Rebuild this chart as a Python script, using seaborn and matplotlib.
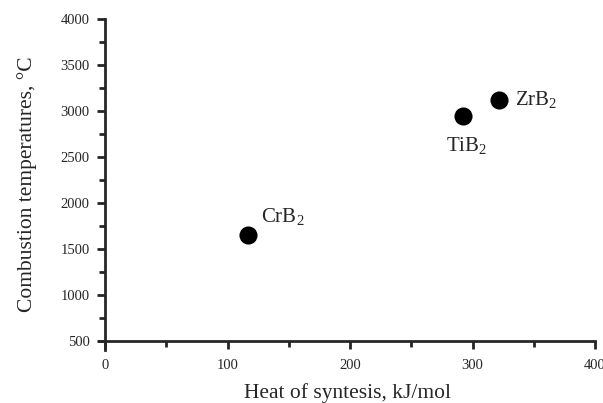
import matplotlib.pyplot as plt
import seaborn as sns
import pandas as pd
from matplotlib.ticker import MultipleLocator

# values
compounds = ['CrB$_\\mathregular{2}$', 'TiB$_\\mathregular{2}$', 'ZrB$_\\mathregular{2}$']
heat = [117, 292, 322]
temp = [1650, 2950, 3120]

df = pd.DataFrame({'heat': heat, 'temp': temp, 'name': compounds})

sns.set_style('ticks')
plt.rcParams['font.family'] = ['Liberation Serif', 'DejaVu Serif']
plt.rcParams['mathtext.fontset'] = 'custom'
plt.rcParams['mathtext.rm'] = 'Liberation Serif'

fig = plt.figure(figsize=(6.03, 4.03), dpi=100)
ax = fig.add_axes([99 / 603, 1 - 350 / 403, 496 / 603, 331 / 403])

sns.scatterplot(data=df, x='heat', y='temp', ax=ax, color='black', s=170,
                edgecolor='black', linewidth=0, legend=False)

# labels next to the dots (offsets in points)
offsets = {0: (9, 13), 1: (-12, -22), 2: (11, 0)}
for i, row in df.iterrows():
    dx, dy = offsets[i]
    ax.annotate(row['name'], (row['heat'], row['temp']), xytext=(dx, dy),
                textcoords='offset points', fontsize=15, ha='left', va='center')

ax.set_xlim(-5, 400)
ax.set_ylim(400, 4000)
ax.spines['left'].set_position(('data', 0))
ax.spines['bottom'].set_position(('data', 500))
ax.spines['right'].set_visible(False)
ax.spines['top'].set_visible(False)
for sp in ['left', 'bottom']:
    ax.spines[sp].set_linewidth(2)

ax.xaxis.set_minor_locator(MultipleLocator(50))
ax.yaxis.set_minor_locator(MultipleLocator(250))
ax.set_xticks(range(0, 401, 100))
ax.set_yticks(range(500, 4001, 500))
ax.tick_params(which='major', length=6, width=2, direction='out', labelsize=10.5, pad=5)
ax.tick_params(axis='x', which='major', pad=7)
ax.tick_params(which='minor', length=4, width=2, direction='out')

ax.set_xlabel('Heat of syntesis, kJ/mol', fontsize=15.5, labelpad=8)
ax.set_ylabel('Combustion temperatures, °C', fontsize=15.5, labelpad=17)

fig.savefig('out.png', dpi=100)
